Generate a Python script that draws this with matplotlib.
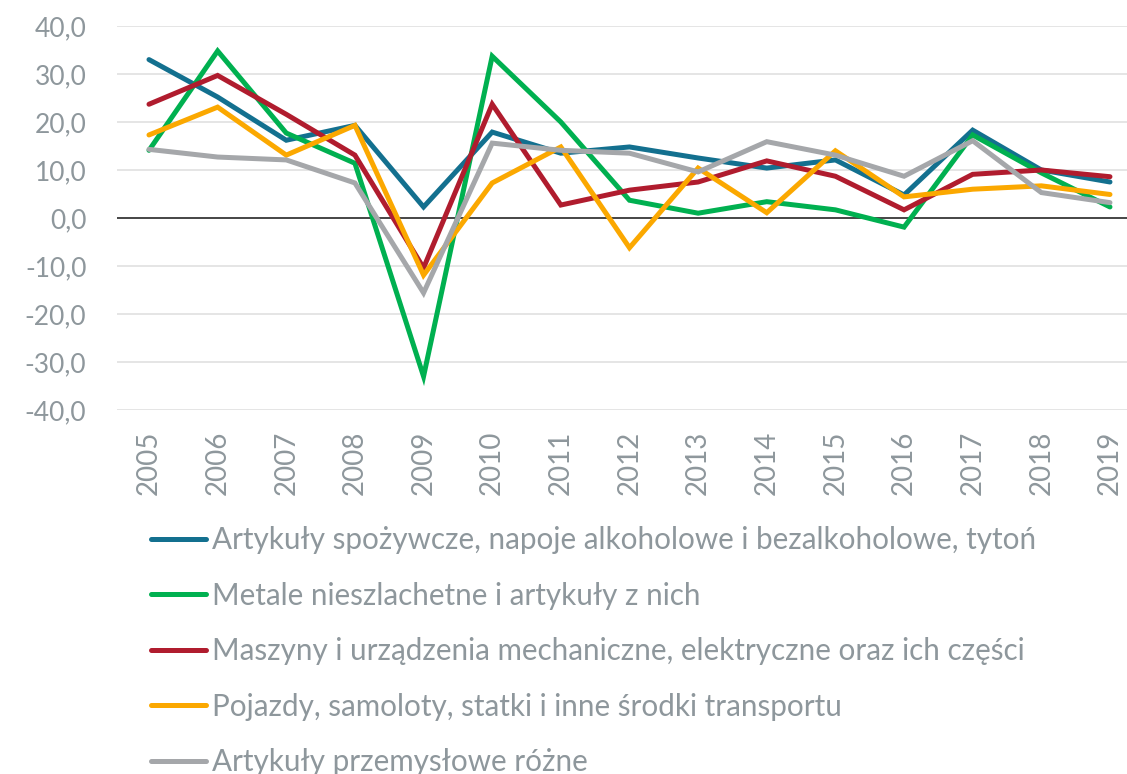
import numpy as np
import matplotlib
matplotlib.use("Agg")
import matplotlib.pyplot as plt
from matplotlib.ticker import FuncFormatter

years = [str(y) for y in range(2005, 2020)]

food = [33.0, 25.2, 16.2, 19.3, 2.3, 17.9, 13.5, 14.8, 12.5, 10.4, 12.1, 4.8, 18.3, 10.0, 7.5]
metals = [14.1, 34.8, 17.7, 11.4, -33.0, 33.7, 20.0, 3.7, 1.0, 3.4, 1.7, -1.9, 17.3, 9.4, 2.3]
machines = [23.7, 29.7, 21.6, 13.1, -10.4, 23.7, 2.7, 5.8, 7.5, 11.9, 8.7, 1.7, 9.1, 10.0, 8.6]
vehicles = [17.3, 23.1, 13.1, 19.3, -11.9, 7.3, 14.8, -6.2, 10.4, 1.1, 14.0, 4.4, 6.0, 6.7, 4.9]
misc = [14.3, 12.7, 12.1, 7.3, -15.6, 15.6, 14.1, 13.5, 9.6, 15.9, 13.1, 8.7, 16.1, 5.3, 3.2]

labels = [
    "Artykuły spożywcze, napoje alkoholowe i bezalkoholowe, tytoń",
    "Metale nieszlachetne i artykuły z nich",
    "Maszyny i urządzenia mechaniczne, elektryczne oraz ich części",
    "Pojazdy, samoloty, statki i inne środki transportu",
    "Artykuły przemysłowe różne",
]
colors = ["#13708f", "#00b050", "#b01c2e", "#fba800", "#a5a7aa"]
text_color = "#8e979c"

plt.rcParams["font.family"] = ["Lato", "DejaVu Sans"]

fig = plt.figure(figsize=(11.27, 7.74), dpi=100)
ax = fig.add_axes([117 / 1127, 1 - 410 / 774, 1010 / 1127, 384 / 774])

x = np.arange(len(years))
for series, color, label in zip([food, metals, machines, vehicles, misc], colors, labels):
    ax.plot(x, series, color=color, lw=3.6, label=label, solid_capstyle="round",
            solid_joinstyle="miter", zorder=3)

ax.set_ylim(-40, 40)
ax.set_yticks(np.arange(-40, 41, 10))
ax.yaxis.set_major_formatter(FuncFormatter(lambda v, p: f"{v:.1f}".replace(".", ",")))
ax.set_xlim(-0.466, 14.248)
ax.set_xticks(x)
ax.set_xticklabels(years, rotation=90)

ax.grid(axis="y", color="#e3e3e3", lw=1.3, zorder=0)
ax.axhline(0, color="#3a3a3a", lw=1.3, zorder=2)
for s in ax.spines.values():
    s.set_visible(False)
ax.tick_params(length=0, colors=text_color)
ax.tick_params(axis="y", labelsize=19, pad=22)
ax.tick_params(axis="x", labelsize=20, pad=15)

fig.legend(loc="upper left", bbox_to_anchor=(151 / 1127, 1 - 526 / 774), frameon=False,
           fontsize=21.3, labelcolor=text_color, handlelength=1.85, handletextpad=0.2,
           labelspacing=0.93, borderaxespad=0, borderpad=0)

fig.savefig("out.png", dpi=100)
